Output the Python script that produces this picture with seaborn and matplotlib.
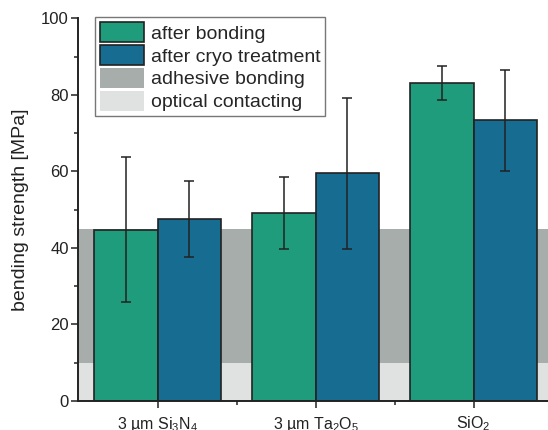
import pandas as pd
import numpy as np
import seaborn as sns
import matplotlib.pyplot as plt
from matplotlib.patches import Patch

# bending strength values
samples = ["3 µm Si$_3$N$_4$", "3 µm Ta$_2$O$_5$", "SiO$_2$"]
after_bonding = [44.8, 49.1, 83.2]
after_cryo = [47.6, 59.5, 73.4]
err_bonding = [18.9, 9.4, 4.5]
err_cryo = [10.0, 19.8, 13.2]
adhesive_range = [10, 45]
optical_range = [0, 10]
series = ["after bonding", "after cryo treatment"]

sns.set_style("ticks")
plt.rcParams['font.family'] = ['Liberation Sans', 'DejaVu Sans']
plt.rcParams['mathtext.default'] = 'regular'

green = "#1e9c7c"
blue = "#176c92"
gray = "#a6adab"
light = "#e0e2e1"
dark = "#222222"

df = pd.DataFrame({
    "sample": samples * 2,
    "series": [series[0]] * 3 + [series[1]] * 3,
    "value": after_bonding + after_cryo,
    "err": err_bonding + err_cryo,
})

fig = plt.figure(figsize=(5.48, 4.30), dpi=100)
ax = fig.add_axes([0.1432, 0.068, 0.8655, 0.889])

# background ranges
ax.axhspan(optical_range[0], optical_range[1], color=light, lw=0, zorder=0)
ax.axhspan(adhesive_range[0], adhesive_range[1], color=gray, lw=0, zorder=0)

sns.barplot(data=df, x="sample", y="value", hue="series", order=samples,
            hue_order=series, palette=[green, blue], width=0.8,
            errorbar=None, edgecolor=dark, linewidth=1.2,
            saturation=1, ax=ax, zorder=2, legend=False)

# error bars at bar centres
for cont, s in zip(ax.containers, series):
    sub = df[df["series"] == s].set_index("sample").loc[samples]
    xs = [p.get_x() + p.get_width() / 2 for p in cont.patches]
    ax.errorbar(xs, sub["value"], yerr=sub["err"], fmt="none",
                ecolor=dark, elinewidth=1.1, capsize=3.5,
                capthick=1.1, zorder=3)

ax.set_xlim(-0.5, 2.5)
ax.set_ylim(0, 100)
ax.set_yticks(np.arange(0, 101, 20))
ax.set_yticks(np.arange(10, 100, 20), minor=True)
ax.set_xticks([0.5, 1.5], minor=True)
ax.tick_params(axis="both", which="major", direction="out", length=5,
               width=1.1, colors=dark)
ax.tick_params(axis="both", which="minor", direction="out", length=3,
               width=1.1, colors=dark)
ax.tick_params(axis="y", labelsize=12, pad=2)
ax.tick_params(axis="x", labelsize=11.5, pad=5)
ax.set_xlabel("")
ax.set_ylabel("bending strength [MPa]", fontsize=14, color=dark, labelpad=9)
for side in ["top", "right"]:
    ax.spines[side].set_visible(False)
for side in ["left", "bottom"]:
    ax.spines[side].set_linewidth(1.4)
    ax.spines[side].set_color(dark)

handles = [
    Patch(facecolor=green, edgecolor=dark, linewidth=1.2, label="after bonding"),
    Patch(facecolor=blue, edgecolor=dark, linewidth=1.2, label="after cryo treatment"),
    Patch(facecolor=gray, edgecolor="none", label="adhesive bonding"),
    Patch(facecolor=light, edgecolor="none", label="optical contacting"),
]
leg = ax.legend(handles=handles, loc="upper left", bbox_to_anchor=(0.035, 1.003),
                fontsize=14, frameon=True, fancybox=False, handlelength=2.25,
                handleheight=1.2, handletextpad=0.36, labelspacing=0.12,
                borderpad=0.25, borderaxespad=0.0)
leg.get_frame().set_edgecolor("#555555")
leg.get_frame().set_linewidth(1.0)

fig.savefig("out.png", dpi=100)
